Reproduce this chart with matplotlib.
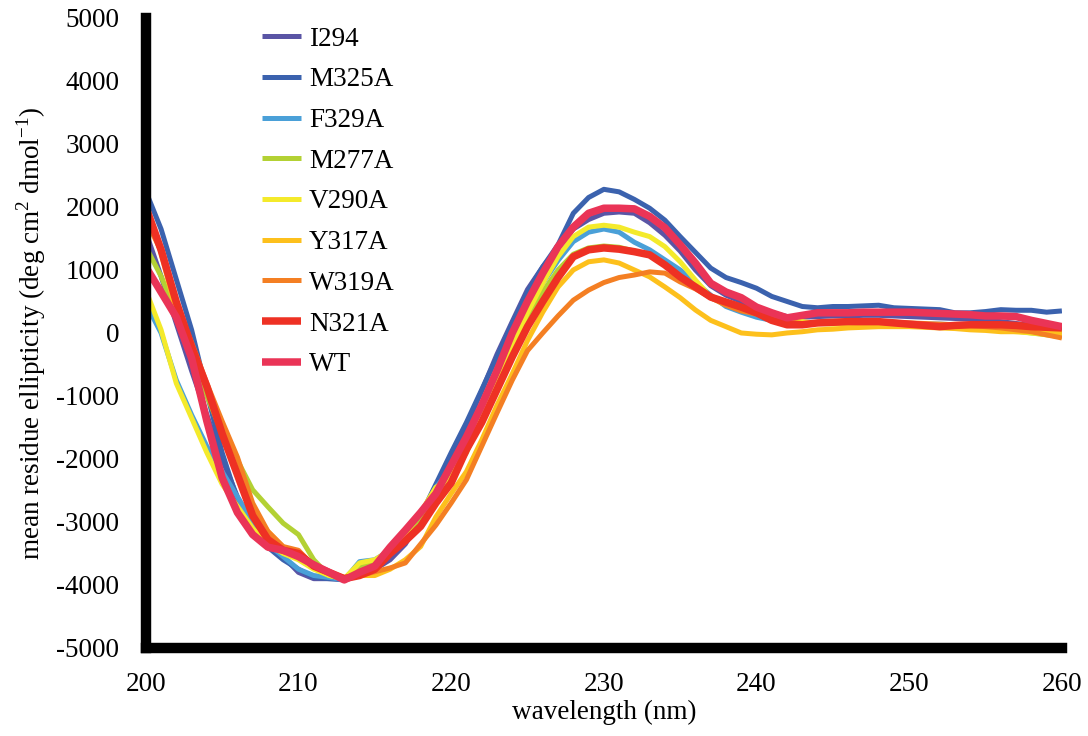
import numpy as np
import matplotlib
matplotlib.use('Agg')
import matplotlib.pyplot as plt

plt.rcParams['font.family'] = ['Liberation Serif', 'DejaVu Serif']
plt.rcParams['mathtext.fontset'] = 'custom'
plt.rcParams['mathtext.rm'] = 'Liberation Serif'
plt.rcParams['axes.unicode_minus'] = False

wavelength = list(range(200, 261))

I294 = [1600, 900, 150, -600, -1300, -2000, -2600, -3050, -3350, -3550,
        -3800, -3900, -3900, -3900, -3850, -3750, -3600, -3350, -2950, -2470,
        -1980, -1470, -920, -340, 180, 690, 1050, 1350, 1650, 1800,
        1900, 1920, 1900, 1750, 1550, 1300, 1000, 750, 600, 500,
        400, 320, 260, 250, 260, 270, 270, 280, 280, 270,
        260, 250, 240, 230, 220, 200, 180, 150, 120, 90, 60]
M325A = [2250, 1650, 850, 50, -950, -1900, -2650, -3100, -3400, -3600,
         -3750, -3880, -3900, -3920, -3750, -3650, -3450, -3250, -2900, -2400,
         -1900, -1420, -900, -380, 150, 650, 1050, 1400, 1900, 2150,
         2280, 2240, 2120, 1980, 1790, 1530, 1280, 1030, 880, 800,
         710, 580, 500, 420, 400, 420, 420, 430, 440, 400,
         390, 380, 370, 320, 320, 340, 370, 360, 360, 330, 350]
F329A = [470, 0, -750, -1300, -1800, -2200, -2600, -3000, -3350, -3550,
         -3750, -3850, -3880, -3920, -3630, -3600, -3450, -3200, -2900, -2450,
         -2150, -1750, -1270, -800, -220, 320, 790, 1150, 1450, 1600,
         1650, 1600, 1440, 1320, 1160, 1000, 800, 600, 420, 330,
         250, 200, 180, 160, 150, 150, 160, 170, 170, 160,
         150, 140, 140, 130, 120, 100, 90, 70, 50, 30, 0]
M277A = [1370, 900, 300, -350, -1000, -1590, -2020, -2490, -2760, -3020,
         -3200, -3600, -3850, -3900, -3700, -3650, -3450, -3200, -3000, -2550,
         -2250, -1900, -1350, -850, -300, 200, 650, 1000, 1250, 1350,
         1380, 1360, 1300, 1230, 1080, 900, 720, 560, 450, 380,
         300, 250, 200, 170, 150, 150, 150, 150, 150, 140,
         130, 120, 110, 100, 90, 70, 50, 30, 0, -30, -60]
V290A = [680, 50, -800, -1350, -1900, -2400, -2750, -3100, -3350, -3500,
         -3600, -3750, -3850, -3900, -3650, -3600, -3450, -3200, -2850, -2450,
         -2300, -1800, -1270, -800, -220, 320, 790, 1210, 1530, 1680,
         1710, 1680, 1600, 1530, 1370, 1130, 840, 570, 450, 400,
         350, 300, 230, 180, 150, 140, 140, 130, 130, 120,
         120, 110, 100, 90, 80, 60, 40, 20, 0, -20, -50]
Y317A = [2000, 1270, 320, -220, -850, -1430, -2000, -2800, -3150, -3400,
         -3500, -3700, -3800, -3900, -3850, -3850, -3750, -3600, -3390, -2920,
         -2550, -2200, -1700, -1150, -650, -120, 330, 730, 1000, 1130,
         1160, 1110, 1000, 890, 730, 560, 365, 200, 100, 0,
         -20, -30, 0, 20, 50, 60, 80, 90, 100, 100,
         100, 90, 80, 70, 50, 40, 20, 20, 20, 10, 0]
W319A = [1800, 1300, 450, -150, -800, -1400, -1970, -2700, -3150, -3390,
         -3450, -3700, -3800, -3880, -3850, -3790, -3730, -3650, -3350, -3050,
         -2700, -2330, -1800, -1270, -750, -280, 0, 270, 520, 680,
         800, 880, 920, 970, 950, 810, 700, 560, 440, 350,
         300, 250, 180, 150, 150, 160, 170, 180, 180, 170,
         160, 150, 140, 130, 120, 100, 80, 50, 20, -30, -80]
N321A = [2000, 1320, 490, -220, -850, -1600, -2250, -2900, -3280, -3450,
         -3500, -3700, -3800, -3900, -3850, -3750, -3500, -3300, -3070, -2700,
         -2380, -1850, -1420, -900, -380, 100, 500, 880, 1210, 1320,
         1350, 1330, 1290, 1240, 1080, 890, 730, 570, 490, 410,
         320, 200, 130, 130, 160, 170, 180, 180, 180, 160,
         140, 120, 100, 120, 130, 130, 130, 120, 100, 90, 80]
WT = [1050, 650, 250, -400, -1400, -2300, -2850, -3200, -3400, -3450,
      -3550, -3680, -3800, -3920, -3800, -3700, -3400, -3130, -2850, -2550,
      -2100, -1650, -1150, -600, 0, 500, 950, 1370, 1680, 1900,
      1980, 1980, 1970, 1850, 1670, 1400, 1110, 790, 650, 560,
      410, 320, 240, 280, 320, 320, 320, 330, 330, 330,
      330, 320, 310, 300, 290, 270, 270, 260, 200, 150, 100]

names = ['I294', 'M325A', 'F329A', 'M277A', 'V290A', 'Y317A', 'W319A', 'N321A', 'WT']
series = [I294, M325A, F329A, M277A, V290A, Y317A, W319A, N321A, WT]
colors = ['#5a55a5', '#3b62ae', '#4aa0d8', '#b3d134', '#f4ea2b',
          '#fdc01c', '#f47f23', '#ee3124', '#ea3457']
widths = [3.6, 3.6, 3.6, 3.6, 3.6, 3.6, 3.6, 5.4, 5.4]

fig = plt.figure(figsize=(10.88, 7.36), dpi=100)
ax = fig.add_axes([0.134, 0.1196, 0.842, 0.856])

for name, vals, c, lw in zip(names, series, colors, widths):
    ax.plot(wavelength, vals, color=c, lw=lw, label=name,
            solid_joinstyle='round', solid_capstyle='butt')

ax.set_xlim(200, 260)
ax.set_ylim(-5000, 5000)
ax.set_xticks(np.arange(200, 261, 10))
ax.set_yticks(np.arange(-5000, 5001, 1000))

for s in ['top', 'right']:
    ax.spines[s].set_visible(False)
for s in ['left', 'bottom']:
    ax.spines[s].set_linewidth(7.5)
    ax.spines[s].set_color('black')
    ax.spines[s].set_zorder(5)
ax.tick_params(axis='both', direction='out', length=3, width=5, labelsize=19.5)
ax.tick_params(axis='y', pad=16)
ax.tick_params(axis='x', pad=14)

ax.set_xlabel('wavelength (nm)', fontsize=19.5, labelpad=2)
ax.set_ylabel('mean residue ellipticity (deg cm$^{2}$ dmol$^{-1}$)', fontsize=19.5, labelpad=6)

ax.legend(loc='upper left', bbox_to_anchor=(0.1, 1.025), frameon=False, fontsize=19.5,
          handlelength=1.45, handletextpad=0.3, labelspacing=0.58)

fig.savefig('out.png', dpi=100)
